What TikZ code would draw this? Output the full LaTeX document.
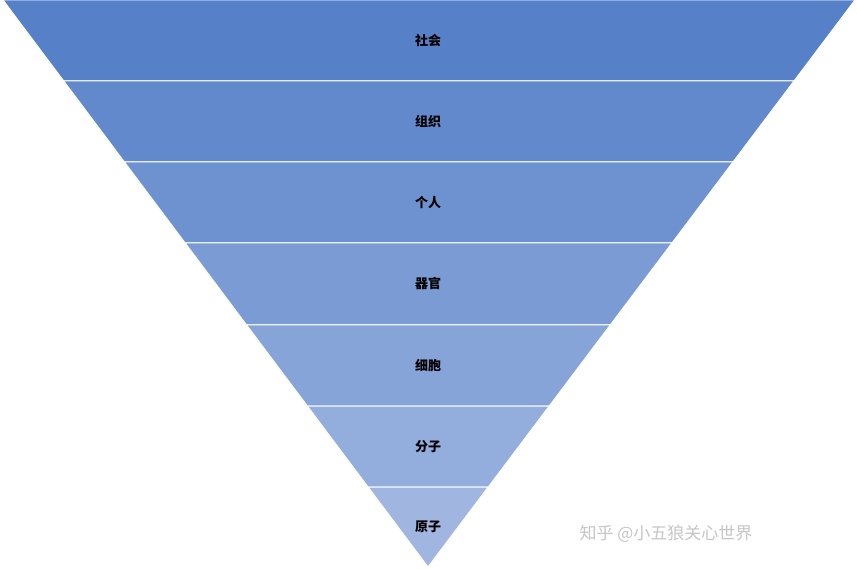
\documentclass[tikz,border=0pt]{standalone}
\usepackage{fontspec}
\newfontfamily\cjk{Noto Sans CJK SC}
\begin{document}
\begin{tikzpicture}[x=1pt,y=-1pt,
  lbl/.style={font=\cjk\bfseries\fontsize{13}{15}\selectfont,text=black}]
\useasboundingbox (0,0) rectangle (857,569);
\fill[white] (0,0) rectangle (857,569);
\def\Lx#1{3+0.749559*#1}
\def\Rx#1{855-0.753086*#1}
\foreach \i/\t/\b/\txt in {0/0/81/社会,1/81/162/组织,2/162/243/个人,3/243/325/器官,4/325/406/细胞,5/406/487/分子,6/487/567/原子}{
  \pgfmathtruncatemacro\r{86+\i*(160-86)/6}
  \pgfmathtruncatemacro\g{128+\i*(182-128)/6}
  \pgfmathtruncatemacro\bb{200+\i*(224-200)/6}
  \definecolor{band}{RGB}{\r,\g,\bb}
  \ifnum\i<6
    \fill[band,draw=white,line width=1pt] ({\Lx{\t}},\t) -- ({\Rx{\t}},\t) -- ({\Rx{\b}},\b) -- ({\Lx{\b}},\b) -- cycle;
  \else
    \fill[band,draw=white,line width=1pt] ({\Lx{\t}},\t) -- ({\Rx{\t}},\t) -- (428,567) -- cycle;
  \fi
  \node[lbl] (n\i) at (428,{(\t+\b)/2}) {\txt};
}
\node[font=\cjk\fontsize{17}{20}\selectfont,text=gray!45,anchor=west] (wm) at (576,534) {知乎 @小五狼关心世界};
\end{tikzpicture}
\end{document}
